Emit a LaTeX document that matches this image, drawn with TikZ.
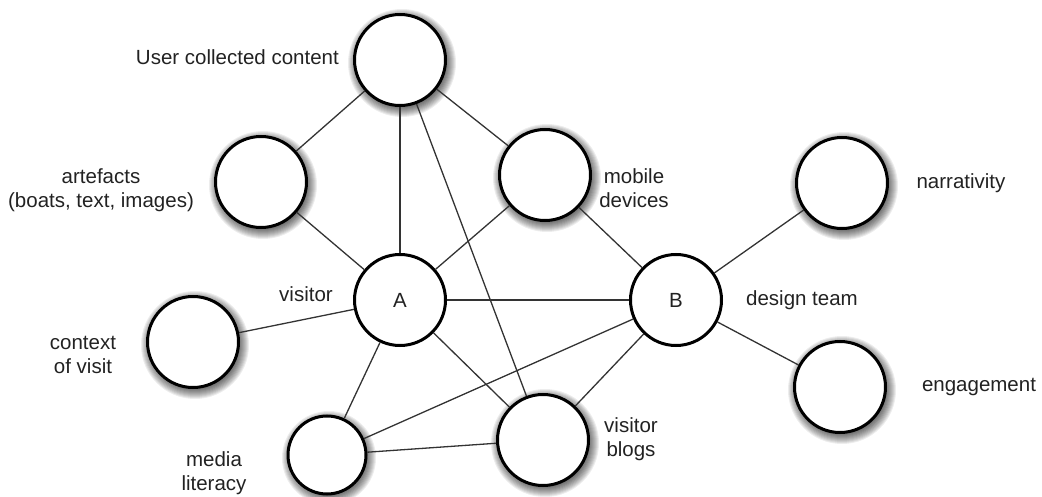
\documentclass[tikz,border=0pt]{standalone}
\usepackage{fontspec}
\setmainfont{Liberation Sans}
\usetikzlibrary{backgrounds}
\definecolor{ink}{HTML}{222222}
\definecolor{edgegray}{HTML}{333333}
\tikzset{
  hub/.style={circle, draw=black, line width=3pt, fill=white, minimum size=91pt, inner sep=0pt,
              font=\fontsize{20.5pt}{24pt}\selectfont, text=ink},
  topic/.style={hub},
  smalltopic/.style={hub, minimum size=78pt},
  lbl/.style={font=\fontsize{20.5pt}{24pt}\selectfont, text=ink, align=center, inner sep=0pt},
  link/.style={draw=edgegray, line width=1.3pt},
  haze/.style={fill=black, opacity=0.07}
}
\begin{document}
\begin{tikzpicture}[x=1pt, y=-1pt]
  \useasboundingbox (0,0) rectangle (1042,497);

  % circles
  \node[topic] (ucc) at (400,60) {};
  \node[topic] (art) at (261,182) {};
  \node[topic] (mob) at (545,175) {};
  \node[topic] (nar) at (842,183) {};
  \node[hub]   (A)   at (400,300) {A};
  \node[hub]   (B)   at (676,300) {B};
  \node[topic] (ctx) at (193,342) {};
  \node[topic] (eng) at (840,387) {};
  \node[smalltopic] (med) at (327,455) {};
  \node[topic] (blg) at (543,440) {};

  % soft shadows under the outer circles
  \begin{scope}[on background layer]
    \foreach \n in {ucc,art,mob,nar,ctx,eng,blg}
      \foreach \r in {44,...,54}
        \fill[haze] ([shift={(2,3)}]\n.center) circle (\r pt);
    \foreach \r in {37,...,47}
      \fill[haze] ([shift={(2,3)}]med.center) circle (\r pt);
  \end{scope}

  % connections
  \draw[link] (ucc) -- (art);
  \draw[link] (ucc) -- (A);
  \draw[link] (ucc) -- (mob);
  \draw[link] (ucc) -- (blg);
  \draw[link] (art) -- (A);
  \draw[link] (mob) -- (A);
  \draw[link] (mob) -- (B);
  \draw[link] (ctx) -- (A);
  \draw[link] (A) -- (B);
  \draw[link] (A) -- (med);
  \draw[link] (A) -- (blg);
  \draw[link] (B) -- (med);
  \draw[link] (B) -- (blg);
  \draw[link] (B) -- (nar);
  \draw[link] (B) -- (eng);
  \draw[link] (med) -- (blg);

  % labels
  \node[lbl, anchor=east] (tucc) at (339,57) {User collected content};
  \node[lbl] (tart) at (101,190) {artefacts\\(boats, text, images)};
  \node[lbl] (tmob) at (634,188) {mobile\\devices};
  \node[lbl] (tnar) at (961,183) {narrativity};
  \node[lbl] (tvis) at (306,294) {visitor};
  \node[lbl] (tdes) at (802,300) {design team};
  \node[lbl] (tctx) at (83,355) {context\\of visit};
  \node[lbl] (teng) at (979,387) {engagement};
  \node[lbl] (tmed) at (214,473) {media\\literacy};
  \node[lbl] (tblg) at (631,439) {visitor\\blogs};
\end{tikzpicture}
\end{document}
